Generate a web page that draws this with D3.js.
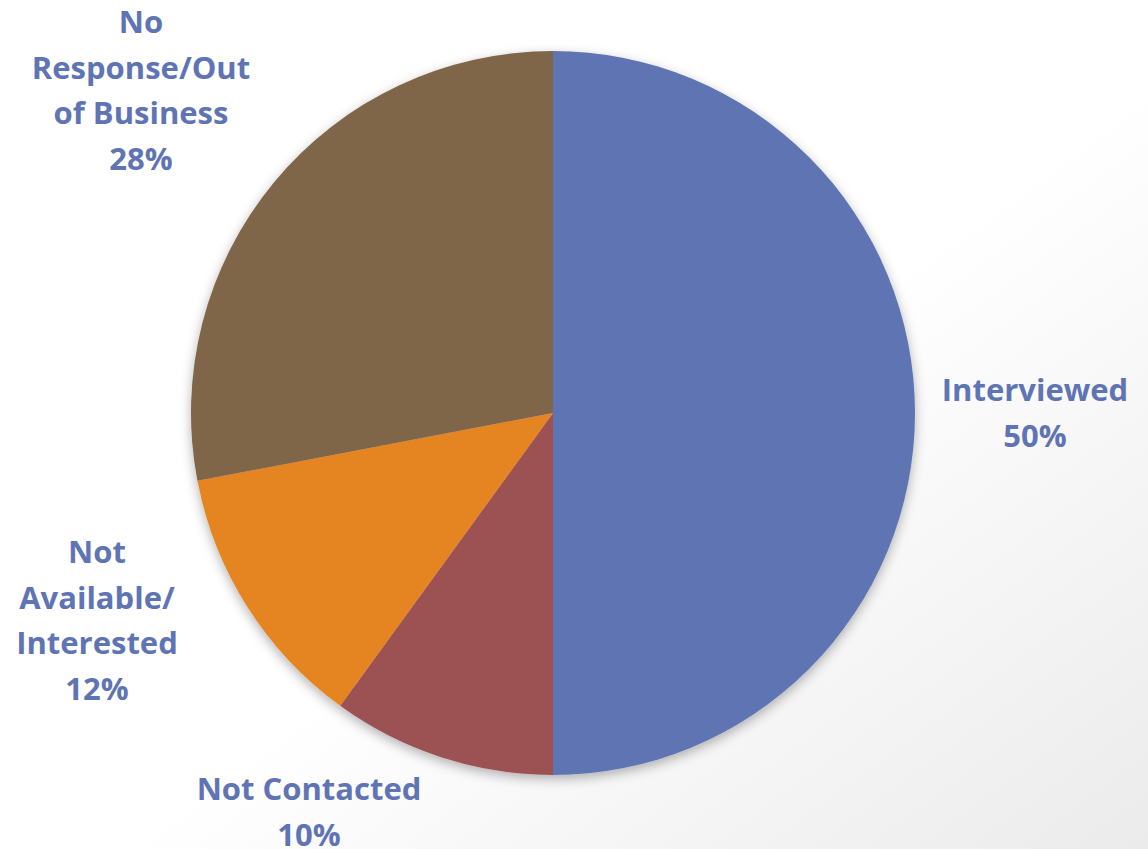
<!DOCTYPE html>
<html>
<head>
<meta charset="utf-8">
<script src="https://cdn.jsdelivr.net/npm/d3@7"></script>
<style>
  html, body { margin: 0; padding: 0; background: #fff; }
  svg { display: block; }
</style>
</head>
<body>
<svg id="chart" width="1148" height="849"></svg>
<script>
// Survey outcome shares
const categories = ["Interviewed", "Not Contacted", "Not Available/ Interested", "No Response/Out of Business"];
const values = [50, 10, 12, 28];
const sliceColors = ["#5F75B3", "#9C5152", "#E58523", "#80664A"];

// Label text lines and anchor points (centre of each block, first baseline)
const labelLines = [
  ["Interviewed", "50%"],
  ["Not Contacted", "10%"],
  ["Not", "Available/", "Interested", "12%"],
  ["No", "Response/Out", "of Business", "28%"]
];
const labelAnchors = [[1035, 401], [309, 800], [97, 563], [141, 33]];

const W = 1148, H = 849;
const cx = 553, cy = 413, radius = 362;

const svg = d3.select("#chart");
const defs = svg.append("defs");

// soft grey wash towards the lower right
const bg = defs.append("linearGradient").attr("id", "bgGrad")
  .attr("x1", "0").attr("y1", "0").attr("x2", "1").attr("y2", "1");
bg.append("stop").attr("offset", "0.55").attr("stop-color", "#ffffff");
bg.append("stop").attr("offset", "1").attr("stop-color", "#ebebeb");

const shadow = defs.append("filter").attr("id", "pieShadow")
  .attr("x", "-10%").attr("y", "-10%").attr("width", "120%").attr("height", "120%");
shadow.append("feDropShadow").attr("dx", 0).attr("dy", 4).attr("stdDeviation", 6)
  .attr("flood-color", "#000").attr("flood-opacity", 0.3);

svg.append("rect").attr("width", W).attr("height", H).attr("fill", "url(#bgGrad)");

const pie = d3.pie().sort(null).value(d => d);
const arc = d3.arc().innerRadius(0).outerRadius(radius);
const color = d3.scaleOrdinal().domain(categories).range(sliceColors);

const g = svg.append("g").attr("transform", `translate(${cx},${cy})`)
  .attr("filter", "url(#pieShadow)");

g.selectAll("path")
  .data(pie(values))
  .join("path")
  .attr("d", arc)
  .attr("fill", (d, i) => color(categories[i]));

// data labels
const lineH = 45.5;
const labels = svg.append("g")
  .attr("font-family", "'Open Sans', Lato, sans-serif")
  .attr("font-weight", 700)
  .attr("font-size", 31)
  .attr("fill", "#5F74B4")
  .attr("text-anchor", "middle");

labelLines.forEach((lines, i) => {
  const [x, y] = labelAnchors[i];
  const t = labels.append("text").attr("x", x).attr("y", y);
  lines.forEach((s, j) => {
    t.append("tspan").attr("x", x).attr("y", y + j * lineH).text(s);
  });
});
</script>
</body>
</html>
